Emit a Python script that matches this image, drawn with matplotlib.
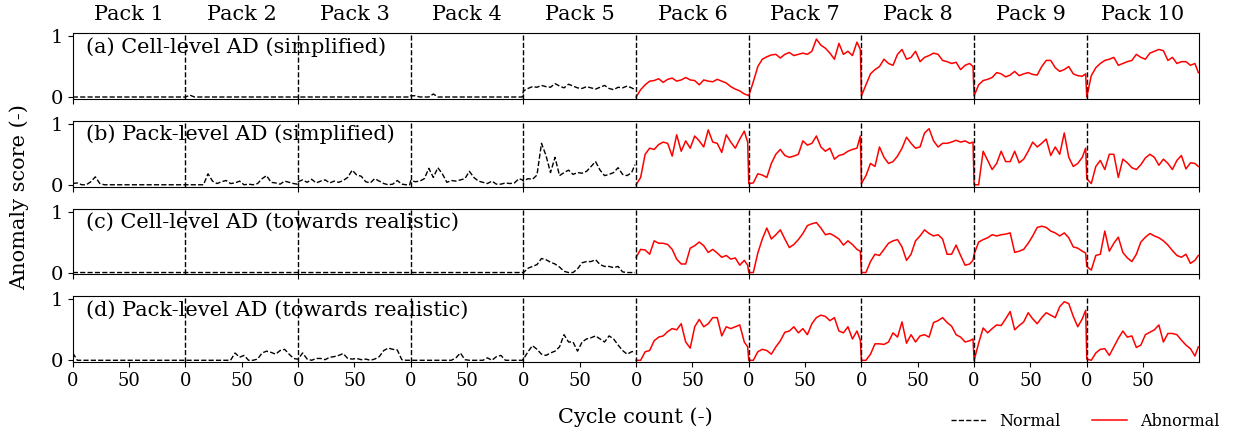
import numpy as np
import matplotlib
matplotlib.use("Agg")
import matplotlib.pyplot as plt
from matplotlib.lines import Line2D

plt.rcParams['font.family'] = ['DejaVu Serif']

PACK_LABELS = [f"Pack {i}" for i in range(1, 11)]
CYCLES = [0, 4, 8, 12, 16, 20, 24, 28, 32, 36, 40, 44, 48, 52, 56, 60, 64, 68, 72, 76, 80, 84, 88, 92, 96, 99]
PACK_LENGTH = 100
N_NORMAL = 5
ROW_TITLES = ["(a) Cell-level AD (simplified)", "(b) Pack-level AD (simplified)",
              "(c) Cell-level AD (towards realistic)", "(d) Pack-level AD (towards realistic)"]

cell_simplified = [
    [0, 0, 0, 0, 0, 0, 0, 0, 0, 0, 0, 0, 0, 0, 0, 0, 0, 0, 0, 0, 0, 0, 0, 0, 0, 0],
    [0.0, 0.03, 0, 0, 0, 0, 0, 0, 0, 0, 0, 0, 0, 0, 0, 0, 0, 0, 0, 0, 0, 0, 0, 0, 0, 0],
    [0, 0, 0, 0, 0, 0, 0, 0, 0, 0, 0, 0, 0, 0, 0, 0, 0, 0, 0, 0, 0, 0, 0, 0, 0, 0],
    [0.02, 0.02, 0.0, 0.0, 0.0, 0.05, 0, 0, 0, 0, 0, 0, 0, 0, 0, 0, 0, 0, 0, 0, 0, 0, 0, 0, 0, 0],
    [0.10, 0.14, 0.17, 0.16, 0.19, 0.17, 0.16, 0.22, 0.18, 0.15, 0.21, 0.18, 0.15, 0.14, 0.17, 0.15, 0.13, 0.16, 0.19, 0.14, 0.12, 0.16, 0.15, 0.18, 0.15, 0.12],
    [0.0, 0.12, 0.2, 0.26, 0.27, 0.3, 0.24, 0.29, 0.31, 0.26, 0.28, 0.32, 0.28, 0.27, 0.2, 0.28, 0.26, 0.25, 0.29, 0.26, 0.23, 0.17, 0.13, 0.1, 0.05, 0.03],
    [0.02, 0.25, 0.5, 0.62, 0.66, 0.69, 0.7, 0.64, 0.7, 0.73, 0.68, 0.7, 0.72, 0.7, 0.75, 0.95, 0.85, 0.8, 0.72, 0.62, 0.88, 0.7, 0.75, 0.68, 0.9, 0.78],
    [0.02, 0.2, 0.38, 0.45, 0.5, 0.62, 0.55, 0.52, 0.7, 0.78, 0.62, 0.65, 0.75, 0.58, 0.65, 0.68, 0.72, 0.7, 0.6, 0.58, 0.55, 0.57, 0.45, 0.52, 0.55, 0.5],
    [0.02, 0.2, 0.27, 0.29, 0.32, 0.4, 0.38, 0.33, 0.36, 0.42, 0.35, 0.38, 0.4, 0.37, 0.36, 0.5, 0.6, 0.6, 0.48, 0.42, 0.45, 0.5, 0.38, 0.35, 0.34, 0.38],
    [0.0, 0.35, 0.48, 0.55, 0.6, 0.62, 0.65, 0.52, 0.55, 0.58, 0.6, 0.7, 0.65, 0.62, 0.72, 0.75, 0.78, 0.76, 0.6, 0.65, 0.55, 0.58, 0.58, 0.52, 0.55, 0.4],
]

pack_simplified = [
    [0.02, 0.03, 0.0, 0.0, 0.05, 0.13, 0.02, 0, 0, 0, 0, 0, 0, 0, 0, 0, 0, 0, 0, 0, 0, 0, 0, 0, 0, 0],
    [0, 0, 0, 0, 0, 0.18, 0.06, 0.02, 0.05, 0.07, 0.02, 0.03, 0.06, 0.0, 0.01, 0.0, 0.02, 0.1, 0.15, 0.04, 0.03, 0.01, 0.06, 0.04, 0.02, 0.01],
    [0.05, 0.08, 0.04, 0.09, 0.03, 0.06, 0.08, 0.03, 0.06, 0.04, 0.07, 0.12, 0.24, 0.16, 0.14, 0.05, 0.03, 0.1, 0.06, 0.02, 0.0, 0.01, 0.07, 0.01, 0.0, 0.0],
    [0.07, 0.05, 0.06, 0.1, 0.27, 0.12, 0.28, 0.18, 0.04, 0.07, 0.06, 0.08, 0.1, 0.22, 0.12, 0.06, 0.04, 0.02, 0.06, 0.01, 0.01, 0.03, 0.02, 0.03, 0.1, 0.08],
    [0.06, 0.1, 0.09, 0.16, 0.68, 0.48, 0.2, 0.45, 0.15, 0.2, 0.24, 0.17, 0.2, 0.19, 0.22, 0.3, 0.38, 0.24, 0.15, 0.17, 0.2, 0.28, 0.17, 0.15, 0.2, 0.33],
    [0.0, 0.12, 0.5, 0.6, 0.58, 0.66, 0.7, 0.68, 0.47, 0.82, 0.55, 0.72, 0.6, 0.8, 0.72, 0.62, 0.9, 0.7, 0.68, 0.53, 0.82, 0.7, 0.6, 0.75, 0.88, 0.7],
    [0.02, 0.03, 0.18, 0.16, 0.12, 0.35, 0.5, 0.58, 0.48, 0.45, 0.47, 0.5, 0.72, 0.65, 0.68, 0.8, 0.62, 0.55, 0.6, 0.42, 0.48, 0.5, 0.55, 0.58, 0.6, 0.8],
    [0.02, 0.15, 0.35, 0.3, 0.62, 0.45, 0.35, 0.38, 0.47, 0.6, 0.78, 0.68, 0.6, 0.62, 0.85, 0.92, 0.72, 0.62, 0.68, 0.68, 0.7, 0.73, 0.7, 0.72, 0.68, 0.7],
    [0.0, 0.0, 0.55, 0.4, 0.25, 0.35, 0.55, 0.38, 0.38, 0.55, 0.36, 0.42, 0.55, 0.7, 0.62, 0.68, 0.75, 0.48, 0.62, 0.5, 0.85, 0.45, 0.3, 0.35, 0.45, 0.6],
    [0.1, 0.02, 0.3, 0.4, 0.25, 0.5, 0.5, 0.12, 0.42, 0.36, 0.28, 0.25, 0.33, 0.44, 0.5, 0.45, 0.32, 0.42, 0.35, 0.25, 0.4, 0.48, 0.26, 0.36, 0.35, 0.3],
]

cell_realistic = [
    [0, 0, 0, 0, 0, 0, 0, 0, 0, 0, 0, 0, 0, 0, 0, 0, 0, 0, 0, 0, 0, 0, 0, 0, 0, 0],
    [0, 0, 0, 0, 0, 0, 0, 0, 0, 0, 0, 0, 0, 0, 0, 0, 0, 0, 0, 0, 0, 0, 0, 0, 0, 0],
    [0, 0, 0, 0, 0, 0, 0, 0, 0, 0, 0, 0, 0, 0, 0, 0, 0, 0, 0, 0, 0, 0, 0, 0, 0, 0],
    [0, 0, 0, 0, 0, 0, 0, 0, 0, 0, 0, 0, 0, 0, 0, 0, 0, 0, 0, 0, 0, 0, 0, 0, 0, 0],
    [0.0, 0.07, 0.1, 0.13, 0.23, 0.21, 0.17, 0.14, 0.09, 0.02, 0.0, 0.0, 0.06, 0.16, 0.18, 0.18, 0.21, 0.13, 0.1, 0.1, 0.08, 0.1, 0.01, 0.0, 0.0, 0.0],
    [0.25, 0.38, 0.37, 0.3, 0.52, 0.48, 0.48, 0.46, 0.38, 0.22, 0.14, 0.14, 0.4, 0.44, 0.5, 0.44, 0.33, 0.38, 0.32, 0.25, 0.28, 0.22, 0.24, 0.12, 0.2, 0.12],
    [0.0, 0.0, 0.32, 0.55, 0.73, 0.55, 0.62, 0.7, 0.55, 0.41, 0.46, 0.54, 0.64, 0.77, 0.8, 0.82, 0.73, 0.62, 0.64, 0.6, 0.55, 0.45, 0.52, 0.46, 0.38, 0.35],
    [0.0, 0.0, 0.18, 0.3, 0.28, 0.38, 0.48, 0.52, 0.54, 0.42, 0.2, 0.3, 0.52, 0.6, 0.7, 0.64, 0.6, 0.62, 0.55, 0.3, 0.3, 0.45, 0.28, 0.12, 0.14, 0.2],
    [0.3, 0.5, 0.54, 0.57, 0.62, 0.6, 0.62, 0.63, 0.65, 0.33, 0.35, 0.38, 0.48, 0.6, 0.74, 0.76, 0.74, 0.68, 0.65, 0.6, 0.65, 0.57, 0.42, 0.4, 0.35, 0.32],
    [0.1, 0.04, 0.28, 0.3, 0.68, 0.35, 0.48, 0.58, 0.33, 0.24, 0.18, 0.3, 0.5, 0.58, 0.64, 0.6, 0.57, 0.52, 0.45, 0.36, 0.28, 0.25, 0.3, 0.15, 0.2, 0.28],
]

pack_realistic = [
    [0.12, 0.0, 0, 0, 0, 0, 0, 0, 0, 0, 0, 0, 0, 0, 0, 0, 0, 0, 0, 0, 0, 0, 0, 0, 0, 0],
    [0, 0, 0, 0, 0, 0, 0, 0, 0, 0, 0, 0.12, 0.05, 0.08, 0.0, 0.0, 0.02, 0.12, 0.15, 0.13, 0.1, 0.16, 0.18, 0.1, 0.03, 0.02],
    [0.02, 0.12, 0.02, 0.0, 0.03, 0.03, 0.01, 0.05, 0.06, 0.08, 0.11, 0.03, 0.02, 0.03, 0.01, 0.02, 0.0, 0.02, 0.06, 0.16, 0.2, 0.18, 0.17, 0.01, 0.0, 0.0],
    [0, 0, 0, 0, 0, 0, 0, 0, 0, 0, 0.04, 0.12, 0.01, 0.0, 0.0, 0.0, 0.0, 0.04, 0.0, 0.06, 0.08, 0.0, 0.0, 0.0, 0.0, 0.0],
    [0.02, 0.14, 0.24, 0.18, 0.1, 0.08, 0.12, 0.15, 0.22, 0.42, 0.3, 0.3, 0.15, 0.3, 0.35, 0.37, 0.4, 0.35, 0.3, 0.4, 0.35, 0.25, 0.16, 0.1, 0.14, 0.15],
    [0.0, 0.0, 0.14, 0.16, 0.32, 0.38, 0.4, 0.47, 0.52, 0.5, 0.6, 0.3, 0.2, 0.55, 0.67, 0.55, 0.6, 0.7, 0.7, 0.4, 0.55, 0.52, 0.55, 0.58, 0.3, 0.22],
    [0.0, 0.0, 0.14, 0.18, 0.16, 0.1, 0.22, 0.32, 0.46, 0.48, 0.55, 0.45, 0.52, 0.42, 0.6, 0.7, 0.74, 0.72, 0.65, 0.7, 0.48, 0.45, 0.55, 0.35, 0.48, 0.33],
    [0.0, 0.0, 0.1, 0.27, 0.27, 0.26, 0.3, 0.45, 0.38, 0.63, 0.28, 0.42, 0.3, 0.4, 0.42, 0.38, 0.62, 0.65, 0.7, 0.62, 0.56, 0.42, 0.38, 0.3, 0.32, 0.35],
    [0.0, 0.28, 0.53, 0.45, 0.52, 0.58, 0.57, 0.68, 0.8, 0.5, 0.57, 0.63, 0.78, 0.68, 0.6, 0.7, 0.78, 0.74, 0.7, 0.88, 0.96, 0.93, 0.72, 0.55, 0.68, 0.82],
    [0.02, 0.0, 0.12, 0.18, 0.19, 0.08, 0.22, 0.36, 0.48, 0.38, 0.4, 0.21, 0.25, 0.42, 0.46, 0.5, 0.58, 0.3, 0.44, 0.44, 0.42, 0.33, 0.25, 0.19, 0.07, 0.22],
]

ROWS = [cell_simplified, pack_simplified, cell_realistic, pack_realistic]

fig = plt.figure(figsize=(12.34, 4.4), dpi=100)
fig.subplots_adjust(left=0.059, right=0.972, top=0.925, bottom=0.177, hspace=0.333)
axes = fig.subplots(4, 1)

TICK_FS = 13
TEXT_FS = 15
cyc = np.array(CYCLES)
for r, (ax, row) in enumerate(zip(axes, ROWS)):
    xn = np.concatenate([p * PACK_LENGTH + cyc for p in range(N_NORMAL)])
    yn = np.concatenate([row[p] for p in range(N_NORMAL)])
    xa = np.concatenate([p * PACK_LENGTH + cyc for p in range(N_NORMAL, 10)])
    ya = np.concatenate([row[p] for p in range(N_NORMAL, 10)])
    ax.plot(xn, yn, color='black', linestyle='--', linewidth=1.0)
    ax.plot(xa, ya, color='red', linestyle='-', linewidth=1.1)
    for p in range(1, 10):
        ax.axvline(p * PACK_LENGTH, color='black', linestyle='--', linewidth=1.0)
    ax.set_xlim(0, 10 * PACK_LENGTH)
    ax.set_ylim(-0.03, 1.05)
    ax.set_yticks([0, 1])
    ax.set_yticklabels(["0", "1"], fontsize=TICK_FS + 1)
    ax.text(0.012, 0.79, ROW_TITLES[r], transform=ax.transAxes, fontsize=TEXT_FS,
            va='center', ha='left')
    if r < 3:
        ax.set_xticks(np.arange(0, 1001, 200))
        ax.set_xticklabels([])
    else:
        ticks = np.arange(0, 1000, 50)
        ax.set_xticks(ticks)
        ax.set_xticklabels(["0" if (t // 50) % 2 == 0 else "50" for t in ticks], fontsize=TICK_FS)

for p, lab in enumerate(PACK_LABELS):
    axes[0].text((p + 0.5) * PACK_LENGTH, 1.13, lab, transform=axes[0].get_xaxis_transform(),
                 ha='center', va='bottom', fontsize=TEXT_FS)

fig.text(0.016, 0.551, "Anomaly score (-)", rotation=90, va='center', ha='center', fontsize=TEXT_FS)
fig.text(0.515, 0.052, "Cycle count (-)", va='center', ha='center', fontsize=TEXT_FS)

handles = [Line2D([0], [0], color='black', linestyle='--', linewidth=1.0),
           Line2D([0], [0], color='red', linestyle='-', linewidth=1.1)]
fig.legend(handles, ["Normal", "Abnormal"], loc='lower right', ncol=2, frameon=False,
           fontsize=11.5, bbox_to_anchor=(1.0, -0.01), handlelength=2.2, columnspacing=2.0)

fig.savefig("out.png", dpi=100)
